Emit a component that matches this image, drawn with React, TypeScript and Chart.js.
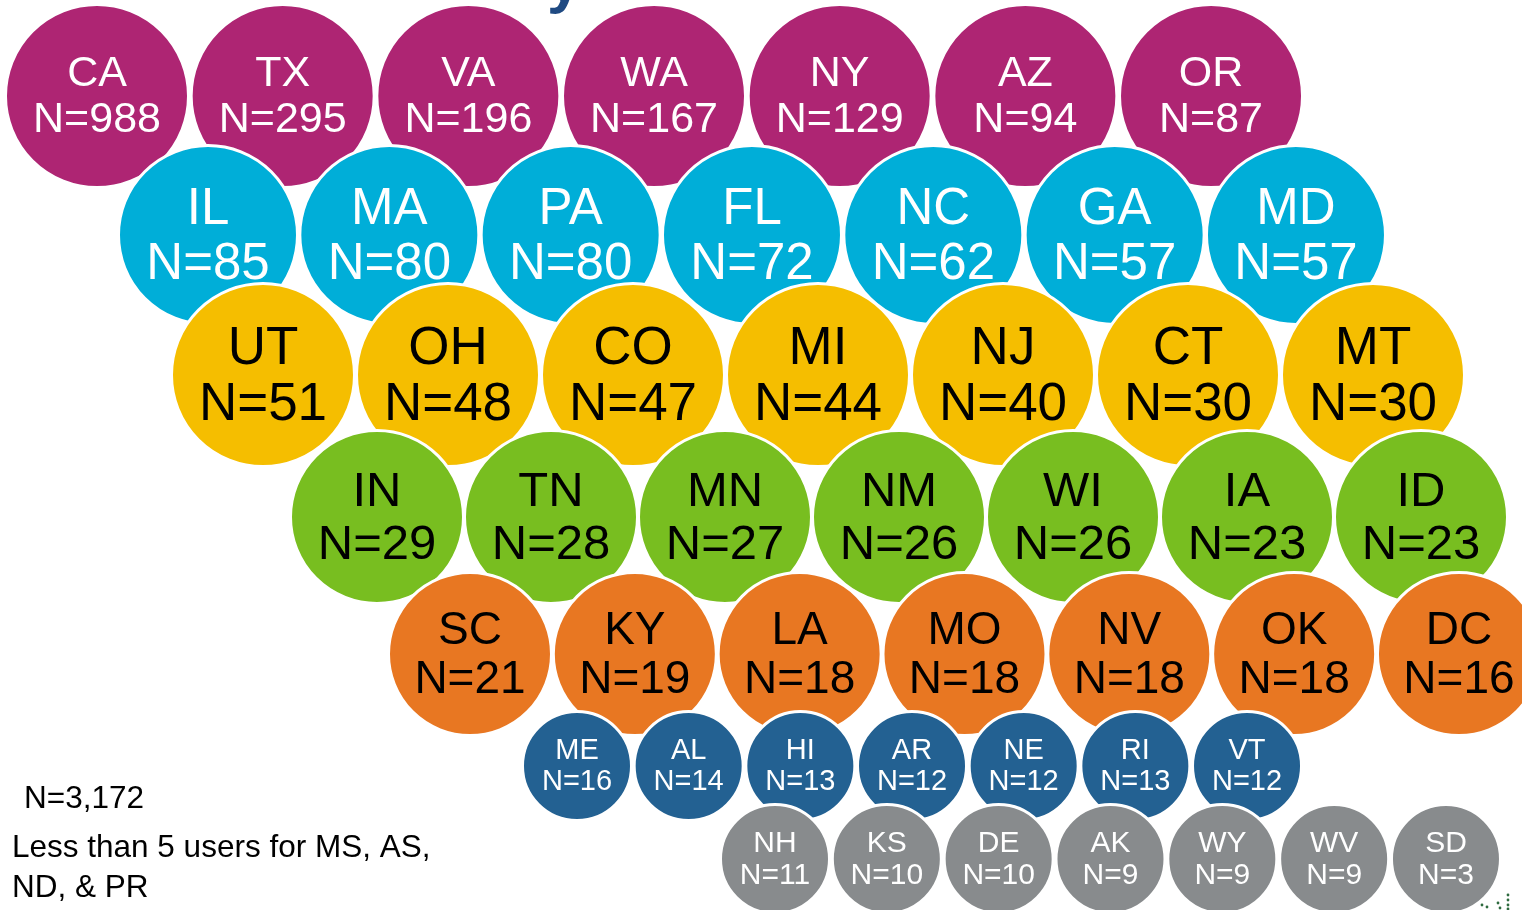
import React, { useEffect, useRef } from "react";
import { Chart, registerables } from "chart.js";

Chart.register(...registerables);

// ---- Data (users by state, grouped in tiers) ----
const tier1States = ["CA", "TX", "VA", "WA", "NY", "AZ", "OR"];
const tier1Counts = [988, 295, 196, 167, 129, 94, 87];

const tier2States = ["IL", "MA", "PA", "FL", "NC", "GA", "MD"];
const tier2Counts = [85, 80, 80, 72, 62, 57, 57];

const tier3States = ["UT", "OH", "CO", "MI", "NJ", "CT", "MT"];
const tier3Counts = [51, 48, 47, 44, 40, 30, 30];

const tier4States = ["IN", "TN", "MN", "NM", "WI", "IA", "ID"];
const tier4Counts = [29, 28, 27, 26, 26, 23, 23];

const tier5States = ["SC", "KY", "LA", "MO", "NV", "OK", "DC"];
const tier5Counts = [21, 19, 18, 18, 18, 18, 16];

const tier6States = ["ME", "AL", "HI", "AR", "NE", "RI", "VT"];
const tier6Counts = [16, 14, 13, 12, 12, 13, 12];

const tier7States = ["NH", "KS", "DE", "AK", "WY", "WV", "SD"];
const tier7Counts = [11, 10, 10, 9, 9, 9, 3];

const totalNote = "N=3,172";
const footNoteLines = ["Less than 5 users for MS, AS,", "ND, & PR"];

const tierStates = [tier1States, tier2States, tier3States, tier4States, tier5States, tier6States, tier7States];
const tierCounts = [tier1Counts, tier2Counts, tier3Counts, tier4Counts, tier5Counts, tier6Counts, tier7Counts];

// ---- Layout / style (pixel space of the 1522x910 canvas) ----
const tierLayout = [
  { x0: 97, step: 185.67, y: 96, r: 90, font: 43, fill: "#AE2573", text: "#FFFFFF" },
  { x0: 208, step: 181.33, y: 235, r: 88, font: 51, fill: "#00AED8", text: "#FFFFFF" },
  { x0: 263, step: 185, y: 375, r: 90, font: 53, fill: "#F5BE00", text: "#000000" },
  { x0: 377, step: 174, y: 517, r: 85, font: 49, fill: "#78BE20", text: "#000000" },
  { x0: 470, step: 164.83, y: 654, r: 80, font: 46, fill: "#E87722", text: "#000000" },
  { x0: 577, step: 111.67, y: 766, r: 53, font: 29, fill: "#236192", text: "#FFFFFF" },
  { x0: 775, step: 111.83, y: 859, r: 53, font: 30, fill: "#888B8D", text: "#FFFFFF" },
];

const W = 1522;
const H = 910;
const FONT = "'Liberation Sans', Arial, Helvetica, sans-serif";

const labelPlugin = {
  id: "bubbleLabels",
  afterDatasetDraw(chart: any, args: any) {
    const i = args.index;
    const ds = chart.data.datasets[i];
    const lay = tierLayout[ds.tier];
    const meta = chart.getDatasetMeta(i);
    const ctx = chart.ctx;
    ctx.save();
    ctx.fillStyle = lay.text;
    ctx.textAlign = "center";
    ctx.textBaseline = "alphabetic";
    ctx.font = `${lay.font}px ${FONT}`;
    const gap = 1.07 * lay.font;
    meta.data.forEach((el: any, j: number) => {
      const cy = el.y - 2;
      const b1 = cy - gap / 2 + 0.358 * lay.font;
      const b2 = cy + gap / 2 + 0.358 * lay.font;
      ctx.fillText(tierStates[ds.tier][j], el.x, b1);
      ctx.fillText(`N=${tierCounts[ds.tier][j]}`, el.x, b2);
    });
    ctx.restore();
  },
  afterDraw(chart: any) {
    const ctx = chart.ctx;
    ctx.save();
    ctx.fillStyle = "#000000";
    ctx.textAlign = "left";
    ctx.textBaseline = "alphabetic";
    ctx.font = `31.5px ${FONT}`;
    ctx.fillText(totalNote, 24, 808);
    ctx.fillText(footNoteLines[0], 12, 857);
    ctx.fillText(footNoteLines[1], 12, 897);
    // cropped title fragment at the very top
    ctx.fillStyle = "#1F4A82";
    ctx.font = `bold 62px ${FONT}`;
    ctx.fillText("y", 547, 1);
    // cropped logo fragment, bottom right
    ctx.fillStyle = "#2E6B3F";
    const dots = [[1482, 905], [1487, 907], [1498, 903], [1500, 908], [1508, 895], [1508, 900], [1508, 905], [1508, 909]];
    dots.forEach(([dx, dy]) => {
      ctx.beginPath();
      ctx.arc(dx, dy, 1.4, 0, Math.PI * 2);
      ctx.fill();
    });
    ctx.restore();
  },
};

export default function App() {
  const ref = useRef<HTMLCanvasElement | null>(null);

  useEffect(() => {
    document.body.style.margin = "0";
    const canvas = ref.current;
    if (!canvas) return;

    const datasets = tierStates.map((states, t) => {
      const lay = tierLayout[t];
      return {
        label: `Tier ${t + 1}`,
        tier: t,
        order: tierStates.length - 1 - t,
        data: states.map((s, j) => ({ x: lay.x0 + j * lay.step, y: lay.y, r: lay.r + 1.5 })),
        backgroundColor: lay.fill,
        borderColor: "#FFFFFF",
        borderWidth: 3,
        hoverBorderWidth: 3,
        clip: false as any,
      } as any;
    });

    const chart = new Chart(canvas, {
      type: "bubble",
      data: { datasets },
      options: {
        animation: false,
        responsive: false,
        devicePixelRatio: 1,
        events: [],
        layout: { padding: 0, autoPadding: false } as any,
        plugins: { legend: { display: false }, tooltip: { enabled: false }, title: { display: false } },
        scales: {
          x: { type: "linear", min: 0, max: W, display: false },
          y: { type: "linear", min: 0, max: H, reverse: true, display: false },
        },
      },
      plugins: [labelPlugin],
    });
    return () => chart.destroy();
  }, []);

  return (
    <div style={{ position: "absolute", left: 0, top: 0, width: W, height: H, background: "#FFFFFF" }}>
      <canvas ref={ref} width={W} height={H} style={{ display: "block", width: W, height: H }} />
    </div>
  );
}
